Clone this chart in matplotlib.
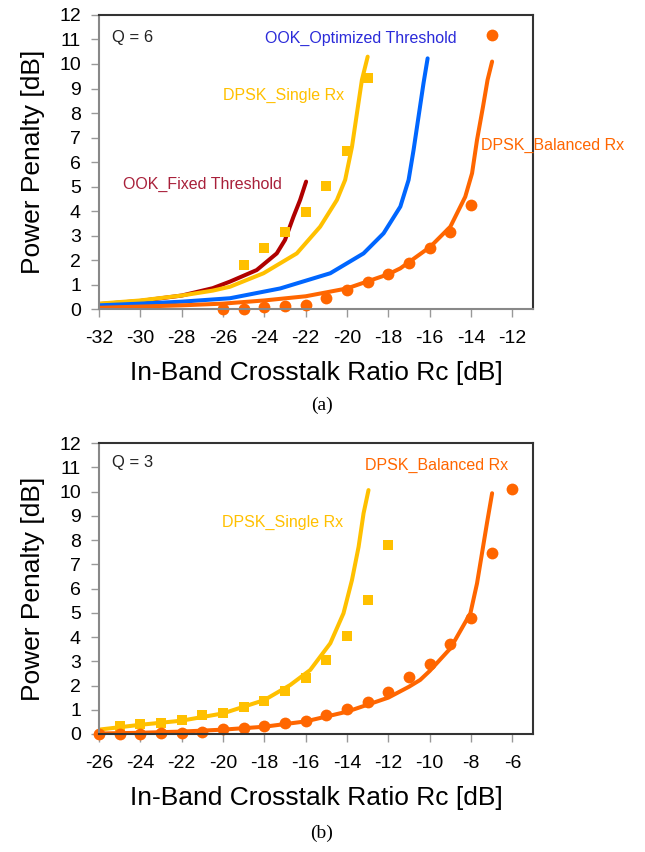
import matplotlib.pyplot as plt

plt.rcParams['font.family'] = ['Liberation Sans', 'DejaVu Sans']
plt.rcParams['axes.unicode_minus'] = False
plt.rcParams['lines.solid_joinstyle'] = 'round'
plt.rcParams['lines.solid_capstyle'] = 'round'

YELLOW = '#FFC000'
ORANGE = '#FF6600'
BLUE = '#0066FF'
DARKRED = '#B00000'

# ---- (a) Q = 6 ----
a_bal_x = [-26, -25, -24, -23, -22, -21, -20, -19, -18, -17, -16, -15, -14, -13]
a_bal_y = [0.0, 0.0, 0.07, 0.12, 0.16, 0.45, 0.78, 1.11, 1.41, 1.86, 2.48, 3.13, 4.24, 11.18]
a_sgl_x = [-25, -24, -23, -22, -21, -20, -19]
a_sgl_y = [1.8, 2.48, 3.13, 3.94, 5.02, 6.45, 9.44]

a_fix_line_x = [-32, -30, -28, -26.5, -25.66, -24.37, -23.4, -23.0, -22.59, -22.27, -21.98]
a_fix_line_y = [0.2, 0.33, 0.55, 0.85, 1.12, 1.59, 2.27, 2.82, 3.77, 4.45, 5.2]
a_sgl_line_x = [-32, -30, -28, -26.5, -25.66, -24.04, -22.43, -21.3, -20.49, -20.09, -19.76,
                -19.52, -19.28, -19.0]
a_sgl_line_y = [0.22, 0.35, 0.55, 0.75, 0.91, 1.46, 2.27, 3.36, 4.45, 5.27, 6.62,
                7.99, 9.35, 10.3]
a_opt_line_x = [-32, -30, -28, -25.66, -23.23, -20.81, -19.2, -18.23, -17.42, -17.02, -16.78,
                -16.54, -16.3, -16.1]
a_opt_line_y = [0.15, 0.22, 0.3, 0.44, 0.84, 1.46, 2.27, 3.09, 4.18, 5.27, 6.49,
                7.85, 9.21, 10.23]
a_bal_line_x = [-32, -28, -26, -24, -22, -20, -18, -17.42, -15.97, -15.0, -14.28, -13.95,
                -13.71, -13.42, -13.2, -12.98]
a_bal_line_y = [0.05, 0.15, 0.22, 0.35, 0.52, 0.84, 1.42, 1.66, 2.54, 3.36, 4.58, 5.54,
                6.9, 8.26, 9.35, 10.1]

# ---- (b) Q = 3 ----
b_sgl_x = [-25, -24, -23, -22, -21, -20, -19, -18, -17, -16, -15, -14, -13, -12]
b_sgl_y = [0.33, 0.41, 0.47, 0.58, 0.78, 0.88, 1.13, 1.36, 1.79, 2.32, 3.05, 4.04, 5.51, 7.78]
b_bal_x = [-26, -25, -24, -23, -22, -21, -20, -19, -18, -17, -16, -15, -14, -13, -12, -11, -10,
           -9, -8, -7, -6]
b_bal_y = [0.0, 0.0, 0.0, 0.03, 0.05, 0.1, 0.19, 0.23, 0.33, 0.44, 0.55, 0.78, 1.02, 1.33, 1.75,
           2.36, 2.89, 3.71, 4.8, 7.48, 10.1]

b_sgl_line_x = [-26, -24, -22, -20, -18, -16.75, -15.78, -14.81, -14.17, -13.76, -13.44,
                -13.2, -12.96]
b_sgl_line_y = [0.18, 0.38, 0.55, 0.85, 1.4, 2.02, 2.64, 3.74, 4.98, 6.35, 7.72,
                9.1, 10.06]
b_bal_line_x = [-26, -24, -22, -20, -18, -16, -14, -12, -11, -10.46, -10, -9, -8.03, -7.71,
                -7.47, -7.23, -6.98]
b_bal_line_y = [0.02, 0.05, 0.1, 0.18, 0.3, 0.52, 0.92, 1.5, 1.95, 2.23, 2.6, 3.53, 4.98, 6.21,
                7.45, 8.69, 9.93]

fig = plt.figure(figsize=(6.45, 8.52), dpi=100)
ax1 = fig.add_axes([0.1535, 0.6373, 0.6729, 0.3451])
ax2 = fig.add_axes([0.1535, 0.1385, 0.6729, 0.3415])


def style(ax, xmin, xmax):
    ax.set_xlim(xmin, xmax)
    ax.set_ylim(0, 12)
    ax.set_yticks(range(0, 13))
    ax.set_xticks(range(xmin, xmax, 2))
    ax.tick_params(direction='out', length=6, width=1, color='#999999', labelsize=14)
    ax.tick_params(axis='x', pad=9)
    ax.tick_params(axis='y', pad=7)
    ax.spines['left'].set_color('#888888')
    ax.spines['bottom'].set_color('#888888')
    ax.spines['top'].set_color('#333333')
    ax.spines['right'].set_color('#333333')
    for s in ax.spines.values():
        s.set_linewidth(1.5)
    ax.set_ylabel('Power Penalty [dB]', fontsize=19, labelpad=10)
    ax.set_xlabel('In-Band Crosstalk Ratio Rc [dB]', fontsize=19, labelpad=10)


lw = 2.9
ax1.plot(a_fix_line_x, a_fix_line_y, color=DARKRED, lw=lw)
ax1.plot(a_sgl_line_x, a_sgl_line_y, color=YELLOW, lw=lw)
ax1.plot(a_opt_line_x, a_opt_line_y, color=BLUE, lw=lw)
ax1.plot(a_bal_line_x, a_bal_line_y, color=ORANGE, lw=lw)
ax1.plot(a_sgl_x, a_sgl_y, 's', color=YELLOW, ms=7.5, mew=0, clip_on=False)
ax1.plot(a_bal_x, a_bal_y, 'o', color=ORANGE, ms=8.5, mew=0, clip_on=False)
style(ax1, -32, -11)
ax1.text(-31.37, 11.1, 'Q = 6', fontsize=12, va='center', color='#222222')
ax1.text(-23.96, 11.06, 'OOK_Optimized Threshold', fontsize=11.5, va='center', color='#2B2BD9')
ax1.text(-26.0, 8.73, 'DPSK_Single Rx', fontsize=11.5, va='center', color=YELLOW)
ax1.text(-30.84, 5.1, 'OOK_Fixed Threshold', fontsize=11.5, va='center', color='#A8203A')
ax1.text(-13.5, 6.69, 'DPSK_Balanced Rx', fontsize=11.5, va='center', color=ORANGE,
         clip_on=False)

ax2.plot(b_sgl_line_x, b_sgl_line_y, color=YELLOW, lw=lw)
ax2.plot(b_bal_line_x, b_bal_line_y, color=ORANGE, lw=lw)
ax2.plot(b_sgl_x, b_sgl_y, 's', color=YELLOW, ms=7.5, mew=0, clip_on=False)
ax2.plot(b_bal_x, b_bal_y, 'o', color=ORANGE, ms=8.5, mew=0, clip_on=False)
style(ax2, -26, -5)
ax2.spines['bottom'].set_color('#333333')
ax2.text(-25.37, 11.18, 'Q = 3', fontsize=12, va='center', color='#222222')
ax2.text(-20.04, 8.74, 'DPSK_Single Rx', fontsize=11.5, va='center', color=YELLOW)
ax2.text(-13.12, 11.09, 'DPSK_Balanced Rx', fontsize=11.5, va='center', color=ORANGE)

fig.text(0.499, 1 - 405 / 852, '(a)', fontsize=14, family='Liberation Serif',
         ha='center', va='center')
fig.text(0.499, 1 - 833 / 852, '(b)', fontsize=14, family='Liberation Serif',
         ha='center', va='center')

fig.savefig('out.png', dpi=100)
